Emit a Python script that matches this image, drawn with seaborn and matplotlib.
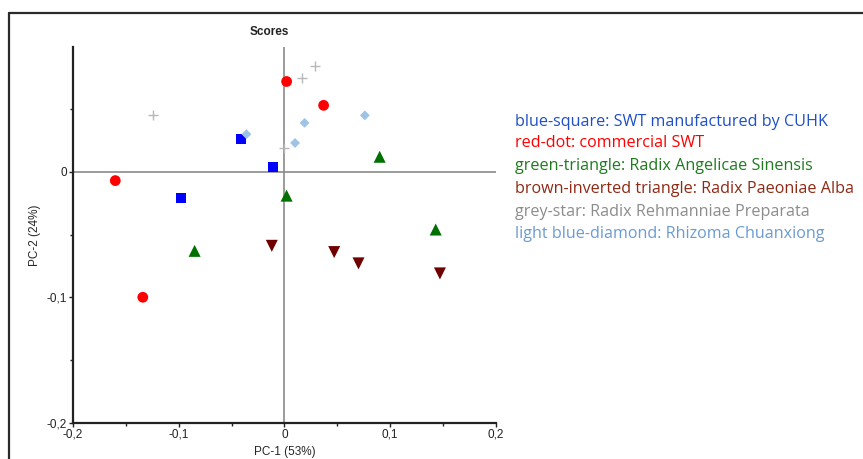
import numpy as np
import pandas as pd
import matplotlib
matplotlib.use('Agg')
import matplotlib.pyplot as plt
import seaborn as sns
from matplotlib.lines import Line2D
from matplotlib.ticker import FuncFormatter, MultipleLocator

# PCA scores
blue_x = [-0.041, -0.011, -0.098]
blue_y = [0.026, 0.004, -0.021]
red_x = [0.002, 0.037, -0.160, -0.134]
red_y = [0.072, 0.053, -0.007, -0.100]
green_x = [0.090, 0.002, -0.085, 0.143]
green_y = [0.012, -0.019, -0.063, -0.046]
brown_x = [-0.012, 0.047, 0.070, 0.147]
brown_y = [-0.059, -0.064, -0.073, -0.081]
grey_x = [-0.124, 0.017, 0.029, 0.000]
grey_y = [0.045, 0.075, 0.084, 0.019]
lblue_x = [-0.036, 0.019, 0.010, 0.076]
lblue_y = [0.030, 0.039, 0.023, 0.045]

legend_labels = [
    'blue-square: SWT manufactured by CUHK',
    'red-dot: commercial SWT',
    'green-triangle: Radix Angelicae Sinensis',
    'brown-inverted triangle: Radix Paeoniae Alba',
    'grey-star: Radix Rehmanniae Preparata',
    'light blue-diamond: Rhizoma Chuanxiong',
]

groups = [
    # x, y, marker, size, colour, text colour
    (blue_x, blue_y, 's', 55, '#0000FF', '#1F4FC8'),
    (red_x, red_y, 'o', 60, '#FF0000', '#FF0000'),
    (green_x, green_y, '^', 75, '#007000', '#1E7B1E'),
    (brown_x, brown_y, 'v', 75, '#700000', '#8E2A14'),
    (grey_x, grey_y, '+', 45, '#B8B8B8', '#8C8C8C'),
    (lblue_x, lblue_y, 'D', 25, '#9DC3E6', '#6C9BD2'),
]

sns.set_style('white')
plt.rcParams['font.family'] = ['Liberation Sans', 'DejaVu Sans']

fig = plt.figure(figsize=(8.63, 4.59), dpi=100)
ax = fig.add_axes([0.0846, 0.0791, 0.4901, 0.8185])

# zero reference lines
ax.axhline(0, color='#8A8A8A', lw=1.2, zorder=1)
ax.axvline(0, color='#8A8A8A', lw=1.2, zorder=1)

for gx, gy, mk, sz, col, _ in groups:
    df = pd.DataFrame({'x': gx, 'y': gy})
    if mk == '+':
        sns.scatterplot(data=df, x='x', y='y', marker=mk, s=sz, color=col,
                        linewidth=1.0, ax=ax, zorder=3)
    else:
        sns.scatterplot(data=df, x='x', y='y', marker=mk, s=sz, color=col,
                        edgecolor='none', linewidth=0, ax=ax, zorder=3)

ax.set_xlim(-0.2, 0.2)
ax.set_ylim(-0.2, 0.0995)
ax.xaxis.set_major_locator(MultipleLocator(0.1))
ax.xaxis.set_minor_locator(MultipleLocator(0.05))
ax.set_yticks([-0.2, -0.1, 0])
ax.set_yticks([-0.15, -0.05, 0.05], minor=True)
fmt = FuncFormatter(lambda v, p: '0' if abs(v) < 1e-9 else f'{v:.1f}'.replace('.', ','))
ax.xaxis.set_major_formatter(fmt)
ax.yaxis.set_major_formatter(fmt)
ax.tick_params(which='both', direction='out', length=3, width=1, colors='#222222',
               labelsize=8.5, pad=1.5, bottom=True, left=True)
ax.tick_params(which='minor', length=2)

for s in ['top', 'right']:
    ax.spines[s].set_visible(False)
for s in ['left', 'bottom']:
    ax.spines[s].set_color('#222222')
    ax.spines[s].set_linewidth(1.6)

ax.set_xlabel('PC-1 (53%)', fontsize=8.5, labelpad=4)
ax.set_ylabel('PC-2 (24%)', fontsize=8.5, labelpad=4)

fig.text(269 / 863, 1 - 32 / 459, 'Scores', ha='center', va='center',
         fontsize=8.5, fontweight='semibold', color='#222222')

# outer frame (left and top only visible)
fig.add_artist(Line2D([9 / 863, 9 / 863], [0, 1 - 13 / 459], color='#2A2A2A', lw=1.6))
fig.add_artist(Line2D([9 / 863, 1], [1 - 13 / 459, 1 - 13 / 459], color='#2A2A2A', lw=1.6))

# coloured text legend on the right
legend_y = [122, 143, 166, 189, 212, 234]
for lab, ly, g in zip(legend_labels, legend_y, groups):
    fig.text(515 / 863, 1 - ly / 459, lab, ha='left', va='center',
             fontsize=11.6, color=g[5], family=['Open Sans', 'DejaVu Sans'])

fig.savefig('out.png', dpi=100)
